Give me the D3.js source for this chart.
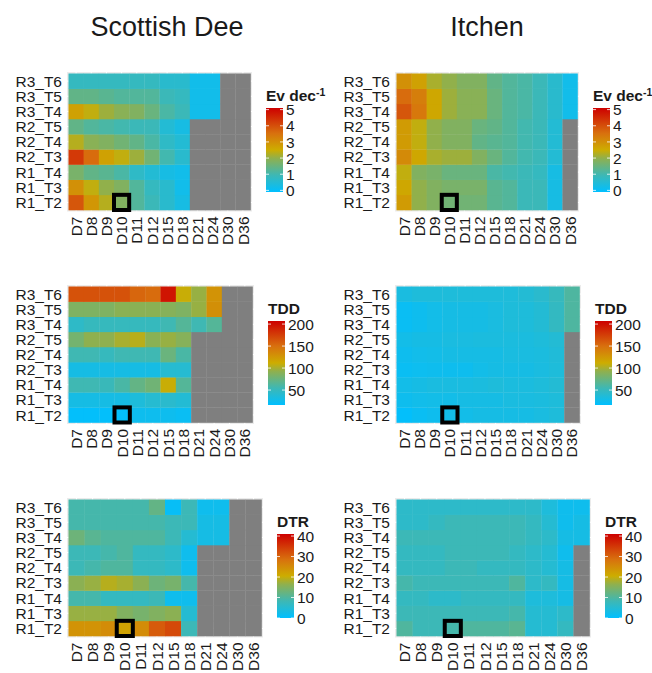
<!DOCTYPE html>
<html>
<head>
<meta charset="utf-8">
<script src="https://cdn.jsdelivr.net/npm/d3@7"></script>
<style>
  body { margin: 0; background: #fff; }
  svg text { font-family: "Liberation Sans", Arial, sans-serif; fill: #1a1a1a; }
</style>
</head>
<body>
<div id="chart"></div>
<script>
// categories
const rows = ["R1_T2", "R1_T3", "R1_T4", "R2_T3", "R2_T4", "R2_T5", "R3_T4", "R3_T5", "R3_T6"];
const days = ["D7", "D8", "D9", "D10", "D11", "D12", "D15", "D18", "D21", "D24", "D30", "D36"];
const sites = ["Scottish Dee", "Itchen"];
const highlight = ["D10", "R1_T2"];

// values, one line per row (R1_T2 first), one value per day; null = no data
const deeEv = [
    [3.9, 2.9, 2.3, 1.8, 1.2, 0.9, 0.6, 0.3, null, null, null, null],
    [3.0, 2.4, 2.0, 1.8, 1.2, 0.8, 0.6, 0.2, null, null, null, null],
    [1.7, 1.4, 1.3, 1.1, 0.7, 0.5, 0.3, 0.2, null, null, null, null],
    [4.3, 3.6, 2.7, 2.4, 2.1, 1.6, 1.0, 0.6, null, null, null, null],
    [2.3, 1.9, 1.8, 1.6, 1.4, 1.1, 0.7, 0.5, null, null, null, null],
    [1.4, 1.2, 1.1, 1.0, 0.9, 0.9, 0.5, 0.3, null, null, null, null],
    [2.7, 2.4, 2.1, 1.9, 1.8, 1.5, 1.1, 0.9, 0.2, 0.2, null, null],
    [1.4, 1.4, 1.3, 1.2, 1.2, 1.2, 0.9, 0.8, 0.2, 0.2, null, null],
    [0.8, 0.8, 0.8, 0.8, 0.8, 0.8, 0.6, 0.6, 0.2, 0.2, null, null]
];
const itchenEv = [
    [2.8, 2.0, 1.8, 1.6, 1.6, 1.6, 1.3, 1.2, 0.9, 0.9, 0.3, null],
    [2.6, 2.0, 1.8, 1.7, 1.7, 1.7, 1.3, 1.2, 0.9, 0.9, 0.3, null],
    [2.4, 1.8, 1.7, 1.5, 1.5, 1.5, 1.1, 1.0, 0.9, 0.8, 0.3, null],
    [3.1, 2.6, 2.2, 2.1, 2.1, 1.8, 1.5, 1.2, 1.0, 0.9, 0.5, null],
    [2.8, 2.4, 2.0, 1.8, 1.8, 1.4, 1.3, 1.2, 1.0, 0.9, 0.5, null],
    [2.8, 2.4, 2.0, 1.8, 1.8, 1.5, 1.4, 1.2, 1.0, 0.9, 0.5, null],
    [3.9, 3.4, 2.6, 2.1, 1.9, 1.9, 1.5, 1.2, 1.1, 0.9, 0.6, 0.2],
    [3.6, 3.3, 2.6, 2.1, 1.9, 1.9, 1.5, 1.2, 1.1, 0.9, 0.6, 0.2],
    [3.0, 2.7, 2.2, 2.0, 1.8, 1.8, 1.4, 1.2, 1.1, 0.9, 0.6, 0.2]
];
const deeTdd = [
    [18, 18, 18, 18, 25, 25, 25, 22, null, null, null, null],
    [30, 30, 30, 30, 35, 40, 42, 38, null, null, null, null],
    [55, 55, 52, 60, 72, 78, 110, 65, null, null, null, null],
    [30, 30, 30, 30, 30, 30, 40, 40, null, null, null, null],
    [55, 55, 50, 55, 55, 55, 75, 60, null, null, null, null],
    [80, 92, 92, 100, 105, 90, 95, 88, null, null, null, null],
    [45, 50, 50, 50, 50, 50, 55, 65, 55, 65, null, null],
    [85, 85, 85, 90, 90, 90, 88, 85, 95, 130, null, null],
    [165, 165, 165, 165, 155, 152, 197, 110, 95, 128, null, null]
];
const itchenTdd = [
    [18, 22, 25, 28, 28, 30, 30, 30, 30, 32, 35, null],
    [25, 27, 28, 28, 30, 30, 30, 32, 32, 33, 35, null],
    [28, 30, 32, 32, 32, 33, 35, 33, 33, 35, 38, null],
    [22, 24, 25, 25, 25, 28, 30, 30, 30, 32, 35, null],
    [25, 27, 28, 30, 30, 30, 30, 32, 32, 33, 36, null],
    [28, 30, 30, 32, 32, 33, 33, 33, 33, 35, 38, null],
    [22, 25, 28, 30, 30, 30, 32, 35, 35, 38, 48, 62],
    [22, 25, 28, 30, 30, 30, 32, 35, 35, 38, 48, 62],
    [32, 35, 35, 35, 35, 35, 35, 35, 38, 42, 50, 62]
];
const deeDtr = [
    [24, 24, 25, 22, 25, 31, 33, 8, null, null, null, null],
    [17, 17, 17, 15, 14, 15, 16, 5, null, null, null, null],
    [9, 9, 7, 7, 7, 8, 2, 2, null, null, null, null],
    [16, 17, 19, 18, 16, 13, 14, 9, null, null, null, null],
    [8, 9, 10, 10, 7, 7, 6, 2, null, null, null, null],
    [8, 8, 9, 10, 7, 7, 6, 2, null, null, null, null],
    [13, 11, 10, 10, 10, 10, 8, 5, 3, 3, null, null],
    [9, 9, 9, 9, 9, 9, 8, 8, 3, 3, null, null],
    [9, 9, 9, 9, 9, 12, 1, 8, 2, 2, null, null]
];
const itchenDtr = [
    [10, 8, 8, 9, 10, 10, 10, 11, 5, 5, 7, null],
    [8, 8, 8, 8, 8, 8, 8, 9, 5, 5, 6, null],
    [7, 7, 6, 6, 7, 7, 7, 7, 4, 4, 3, null],
    [9, 8, 8, 8, 8, 8, 8, 10, 6, 7, 3, null],
    [7, 7, 7, 8, 8, 7, 7, 7, 6, 5, 3, null],
    [7, 7, 7, 8, 8, 8, 8, 7, 6, 5, 2, null],
    [8, 8, 8, 8, 8, 8, 8, 8, 7, 6, 3, 3],
    [6, 6, 7, 8, 8, 8, 8, 8, 7, 5, 2, 3],
    [6, 6, 6, 6, 6, 6, 6, 6, 6, 4, 2, 2]
];

// legend ticks and limits
const evTicks = [0, 1, 2, 3, 4, 5];
const tddTicks = [50, 100, 150, 200];
const dtrTicks = [0, 10, 20, 30, 40];
const evLimits = [-0.1, 5.1];
const tddLimits = [16, 207];
const dtrLimits = [0, 41];

const rampStops = [0, 0.2, 0.4, 0.5, 0.7, 1];
const rampColors = ["#00bfff", "#3db8b5", "#8fb04e", "#cdad00", "#d8700e", "#cd0000"];
const naColor = "#7f7f7f";

const svg = d3.select("#chart").append("svg")
    .attr("width", 652)
    .attr("height", 673);

// site titles
svg.selectAll("text.site")
    .data(sites)
    .enter()
    .append("text")
    .attr("class", "site")
    .attr("x", (d, i) => i === 0 ? 167 : 487)
    .attr("y", 36)
    .attr("text-anchor", "middle")
    .style("font-size", "27px")
    .text(d => d);

function drawPanel(p) {
    const inset = 1.5;
    const g = svg.append("g");

    const x = d3.scaleBand().domain(days).range([p.x0 + inset, p.x1 - inset]);
    const y = d3.scaleBand().domain(rows.slice().reverse()).range([p.y0 + inset, p.y1 - inset]);
    const span = p.limits[1] - p.limits[0];
    const color = d3.scaleLinear()
        .domain(rampStops.map(t => p.limits[0] + t * span))
        .range(rampColors)
        .clamp(true);

    // panel background and grid
    g.append("rect")
        .attr("x", p.x0).attr("y", p.y0)
        .attr("width", p.x1 - p.x0).attr("height", p.y1 - p.y0)
        .attr("fill", "#ebebeb");
    g.selectAll("line.vgrid").data(days).enter().append("line")
        .attr("x1", d => x(d) + x.bandwidth() / 2).attr("x2", d => x(d) + x.bandwidth() / 2)
        .attr("y1", p.y0).attr("y2", p.y1)
        .attr("stroke", "#fff").attr("stroke-width", 1);
    g.selectAll("line.hgrid").data(rows).enter().append("line")
        .attr("y1", d => y(d) + y.bandwidth() / 2).attr("y2", d => y(d) + y.bandwidth() / 2)
        .attr("x1", p.x0).attr("x2", p.x1)
        .attr("stroke", "#fff").attr("stroke-width", 1);

    const cells = [];
    rows.forEach((r, ri) => days.forEach((d, di) => {
        cells.push({ row: r, day: d, value: p.values[ri][di] });
    }));

    g.selectAll("rect.cell")
        .data(cells)
        .enter()
        .append("rect")
        .attr("class", "cell")
        .attr("x", d => x(d.day))
        .attr("y", d => y(d.row))
        .attr("width", x.bandwidth() + 0.3)
        .attr("height", y.bandwidth() + 0.3)
        .attr("fill", d => d.value === null ? naColor : color(d.value));

    // highlighted cell
    g.append("rect")
        .attr("x", x(highlight[0]))
        .attr("y", y(highlight[1]))
        .attr("width", x.bandwidth())
        .attr("height", y.bandwidth())
        .attr("fill", "none")
        .attr("stroke", "#000")
        .attr("stroke-width", 4);

    // y labels
    g.selectAll("text.ylab").data(rows).enter().append("text")
        .attr("x", p.x0 - 5)
        .attr("y", d => y(d) + y.bandwidth() / 2)
        .attr("dy", "0.36em")
        .attr("text-anchor", "end")
        .style("font-size", "15.5px")
        .text(d => d);

    // x labels, vertical
    g.selectAll("text.xlab").data(days).enter().append("text")
        .attr("transform", d => "translate(" + (x(d) + x.bandwidth() / 2) + "," + (p.y1 + 5) + ") rotate(-90)")
        .attr("dy", "0.36em")
        .attr("text-anchor", "end")
        .style("font-size", "15.5px")
        .text(d => d);

    // colour bar legend
    const bx = p.x1 + 14, bw = 17, bTop = p.y0 + 36, bBot = bTop + 84;
    const ly = d3.scaleLinear().domain(p.limits).range([bBot, bTop]);
    const gradId = "grad" + p.id;
    const grad = svg.append("defs").append("linearGradient")
        .attr("id", gradId)
        .attr("x1", 0).attr("y1", 1).attr("x2", 0).attr("y2", 0);
    grad.selectAll("stop").data(rampStops).enter().append("stop")
        .attr("offset", d => d)
        .attr("stop-color", (d, i) => rampColors[i]);
    g.append("rect")
        .attr("x", bx).attr("y", bTop)
        .attr("width", bw).attr("height", bBot - bTop)
        .attr("fill", "url(#" + gradId + ")");
    p.ticks.forEach(t => {
        g.append("line").attr("x1", bx).attr("x2", bx + 3)
            .attr("y1", ly(t)).attr("y2", ly(t))
            .attr("stroke", "#fff").attr("stroke-width", 0.8);
        g.append("line").attr("x1", bx + bw - 3).attr("x2", bx + bw)
            .attr("y1", ly(t)).attr("y2", ly(t))
            .attr("stroke", "#fff").attr("stroke-width", 0.8);
    });
    g.selectAll("text.ltick").data(p.ticks).enter().append("text")
        .attr("x", bx + bw + 3)
        .attr("y", d => ly(d))
        .attr("dy", "0.36em")
        .style("font-size", "15.5px")
        .text(d => d);

    const title = g.append("text")
        .attr("x", bx)
        .attr("y", bTop - 7)
        .style("font-size", "15.5px")
        .style("font-weight", "bold")
        .text(p.title);
    if (p.sup) {
        title.append("tspan")
            .attr("dy", "-0.45em")
            .style("font-size", "10.5px")
            .text(p.sup);
    }
}

const colLeft = [67, 395];
const panels = [
    { id: 1, values: deeEv, limits: evLimits, ticks: evTicks, title: "Ev dec", sup: "-1", x0: colLeft[0], x1: 252, y0: 72, y1: 211.5 },
    { id: 2, values: itchenEv, limits: evLimits, ticks: evTicks, title: "Ev dec", sup: "-1", x0: colLeft[1], x1: 579, y0: 72, y1: 211.5 },
    { id: 3, values: deeTdd, limits: tddLimits, ticks: tddTicks, title: "TDD", x0: colLeft[0], x1: 254, y0: 285, y1: 424 },
    { id: 4, values: itchenTdd, limits: tddLimits, ticks: tddTicks, title: "TDD", x0: colLeft[1], x1: 581, y0: 285, y1: 424 },
    { id: 5, values: deeDtr, limits: dtrLimits, ticks: dtrTicks, title: "DTR", x0: colLeft[0], x1: 263, y0: 498, y1: 637.5 },
    { id: 6, values: itchenDtr, limits: dtrLimits, ticks: dtrTicks, title: "DTR", x0: colLeft[1], x1: 591, y0: 498, y1: 637.5 }
];
panels.forEach(drawPanel);
</script>
</body>
</html>
